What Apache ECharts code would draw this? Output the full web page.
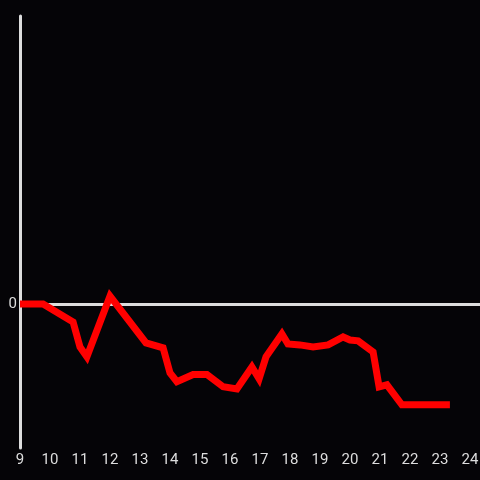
<!DOCTYPE html>
<html>
<head>
<meta charset="utf-8">
<script src="https://cdn.jsdelivr.net/npm/echarts@6/dist/echarts.min.js"></script>
<style>
html,body{margin:0;padding:0;background:#050407;}
#chart{width:480px;height:480px;}
</style>
</head>
<body>
<div id="chart"></div>
<script>
// hour of day (x) and value (y)
var hours = [9, 9.77, 10.77, 11.0, 11.23, 12.0, 13.2, 13.77, 14.0, 14.23, 14.77, 15.23, 15.77, 16.23,
	16.73, 16.97, 17.2, 17.73, 17.93, 18.33, 18.77, 19.27, 19.77, 20.0, 20.27, 20.77, 20.97, 21.23, 21.73, 23.33];
var values = [0, 0, -0.125, -0.298, -0.367, 0.055, -0.27, -0.305, -0.478, -0.54, -0.49, -0.49, -0.575, -0.59,
	-0.437, -0.52, -0.367, -0.208, -0.277, -0.284, -0.298, -0.284, -0.229, -0.25, -0.256, -0.333, -0.575, -0.561, -0.7, -0.7];
var xTicks = [9, 10, 11, 12, 13, 14, 15, 16, 17, 18, 19, 20, 21, 22, 23, 24];

function lineChart(){
	var chart = echarts.init(document.getElementById('chart'));
	var points = hours.map(function(h, i){ return [h, values[i]]; });

	var option = {
		backgroundColor: '#050407',
		animation: false,
		grid: {
			left: 20,
			right: 0,
			top: 16,
			bottom: 32,
			outerBoundsMode: 'none'
		},
		xAxis: {
			type: 'value',
			min: 9,
			max: 24.333,
			interval: 1,
			axisLine: { show: false },
			axisTick: { show: false },
			splitLine: { show: false },
			axisLabel: {
				color: '#dddddd',
				fontSize: 15,
				margin: 5,
				fontFamily: 'Roboto',
				formatter: function(v){ return xTicks.indexOf(v) >= 0 ? String(v) : ''; }
			}
		},
		yAxis: {
			type: 'value',
			min: -1,
			max: 2,
			interval: 1,
			axisLine: { show: true, lineStyle: { color: '#dddddd', width: 3 } },
			axisTick: { show: false },
			splitLine: { show: false },
			axisLabel: {
				color: '#dddddd',
				fontSize: 15,
				margin: 3,
				padding: [2, 0, 0, 0],
				fontFamily: 'Roboto',
				formatter: function(v){ return v === 0 ? '0' : ''; }
			}
		},
		series: [
			{
				type: 'line',
				data: points,
				showSymbol: false,
				lineStyle: { color: '#ff0000', width: 7, cap: 'butt', join: 'miter' },
				markLine: {
					silent: true,
					symbol: 'none',
					label: { show: false },
					lineStyle: { color: '#dddddd', width: 3, type: 'solid' },
					data: [{ yAxis: 0 }],
					z: 1
				},
				z: 3
			}
		]
	};

	chart.setOption(option);
}

lineChart();
</script>
</body>
</html>
